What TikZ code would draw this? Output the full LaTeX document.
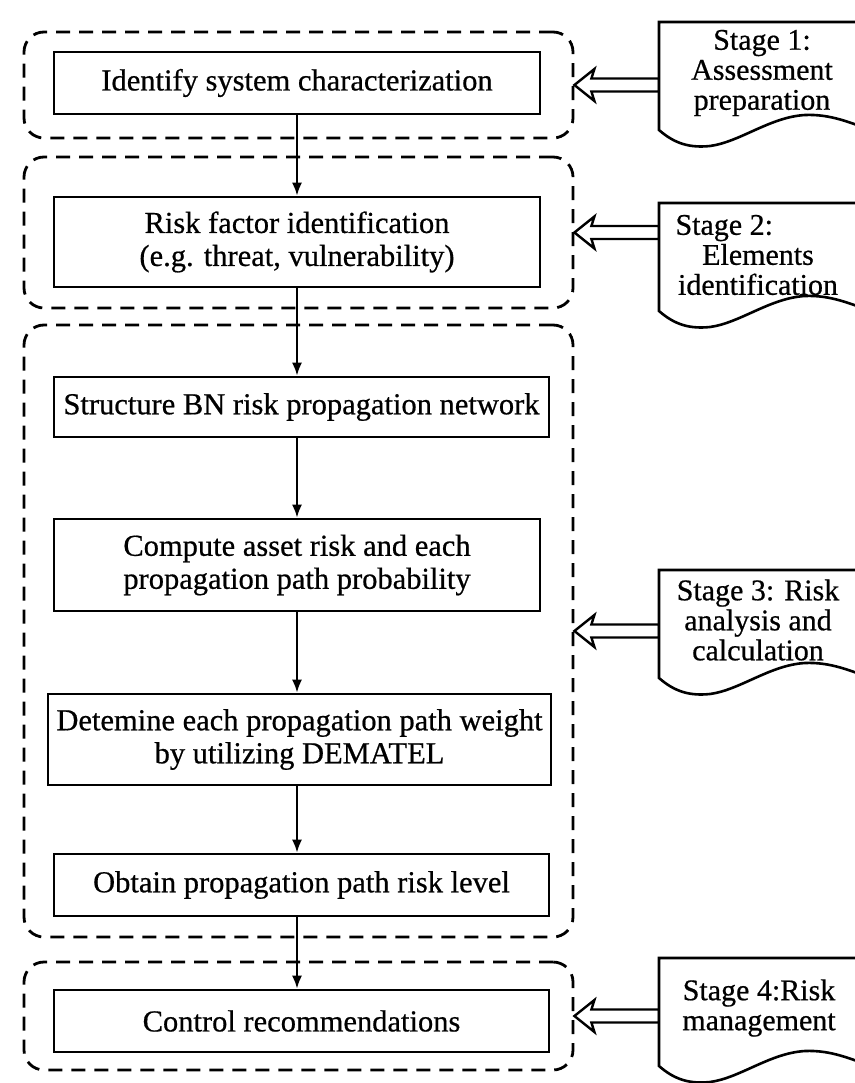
\documentclass[tikz,border=0pt]{standalone}
\usepackage{fontspec}
\setmainfont{Liberation Serif}[FakeBold=0.6]
\usetikzlibrary{arrows.meta,calc}
\begin{document}
\begin{tikzpicture}[x=1pt,y=-1pt,
  stepbox/.style={draw, line width=2.6pt, fill=white, font=\fontsize{30.5}{33}\selectfont, align=center, inner sep=0pt},
  group/.style={draw, line width=2.8pt, dash pattern=on 14pt off 9pt, rounded corners=20pt, inner sep=0pt},
  flow/.style={line width=2.2pt, -{Latex[length=13pt,width=10pt]}},
  hollow/.style={draw, line width=2.4pt, fill=white, line join=miter},
  callout/.style={draw, line width=2.6pt, fill=white},
  stagetext/.style={font=\fontsize{30}{30}\selectfont, align=center, inner sep=0pt}
]
\useasboundingbox (0,0) rectangle (854,1083);
\fill[white] (0,0) rectangle (854,1083);

% groups (stages)
\node[group, minimum width=549, minimum height=106] (g1) at (298.5,85) {};
\node[group, minimum width=549, minimum height=151] (g2) at (298.5,232.5) {};
\node[group, minimum width=549, minimum height=612] (g3) at (298.5,631) {};
\node[group, minimum width=549, minimum height=108] (g4) at (298.5,1016) {};

% steps
\node[stepbox, minimum width=486, minimum height=62] (b1) at (297,83) {Identify system characterization};
\node[stepbox, minimum width=486, minimum height=90] (b2) at (297,242) {Risk factor identification\\(e.g. threat, vulnerability)};
\node[stepbox, minimum width=495, minimum height=60] (b3) at (301.5,407) {Structure BN risk propagation network};
\node[stepbox, minimum width=486, minimum height=92] (b4) at (297,565) {Compute asset risk and each\\propagation path probability};
\node[stepbox, minimum width=503, minimum height=91] (b5) at (299.5,739.5) {Detemine each propagation path weight\\by utilizing DEMATEL};
\node[stepbox, minimum width=495, minimum height=62] (b6) at (301.5,885) {Obtain propagation path risk level};
\node[stepbox, minimum width=495, minimum height=62] (b7) at (301.5,1021) {Control recommendations};

% flow arrows
\draw[flow] (b1.south) -- (b1.south |- b2.north);
\draw[flow] (b2.south) -- (b2.south |- b3.north);
\draw[flow] (b4.north |- b3.south) -- (b4.north);
\draw[flow] (b4.south) -- (b4.south |- b5.north);
\draw[flow] (b5.south -| b4.south) -- (b6.north -| b4.south);
\draw[flow] (b6.south -| b4.south) -- (b7.north -| b4.south);

% callout anchors
\coordinate (c1) at (659,85);
\coordinate (c2) at (659,232.5);
\coordinate (c3) at (659,631);
\coordinate (c4) at (659,1016);

% hollow arrows
\foreach \g/\c in {g1/c1,g2/c2,g3/c3,g4/c4}{
  \draw[hollow] let \p1=(\g.east), \p2=(\c) in
    (\p1) -- (\x1+20pt,\y1+16pt) -- (\x1+17pt,\y1+6.5pt) -- (\x2,\y1+6.5pt)
    -- (\x2,\y1-6.5pt) -- (\x1+17pt,\y1-6.5pt) -- (\x1+20pt,\y1-16pt) -- cycle;
}

% callouts
\foreach \t in {22,203,570,958}{
  \begin{scope}[shift={(659,\t)}]
    \draw[callout] (0,0) -- (0,108) .. controls (16,122) and (31,126) .. (51,124)
      .. controls (81,120) and (111,95) .. (146,93)
      .. controls (171,92) and (191,100) .. (221,112) -- (221,0) -- cycle;
  \end{scope}
}

\node[stagetext] (s1) at (762,73) {Stage 1:\\Assessment\\preparation};
\node[stagetext] (s2) at (758,255) {\makebox[165pt][l]{Stage 2:}\\Elements\\identification};
\node[stagetext] (s3) at (758,620) {Stage 3: Risk\\analysis and\\calculation};
\node[stagetext] (s4) at (759,1008) {Stage 4:Risk\\management};
\end{tikzpicture}
\end{document}
